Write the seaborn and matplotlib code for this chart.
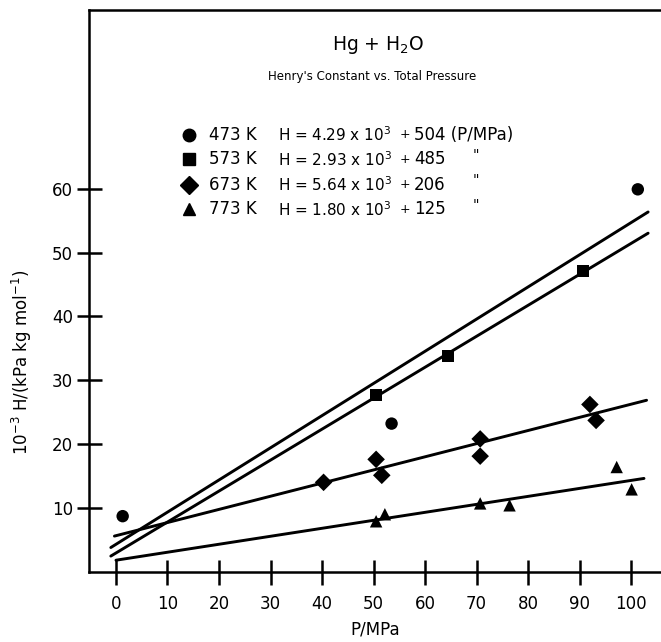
import numpy as np
import pandas as pd
import matplotlib
matplotlib.use("Agg")
import matplotlib.pyplot as plt
import seaborn as sns

# Measured Henry's constants, 10^-3 H / (kPa kg mol^-1), against total pressure P / MPa
p_473 = [1.3, 53.5, 101.3]
h_473 = [8.7, 23.2, 59.9]
p_573 = [50.5, 64.5, 90.7]
h_573 = [27.7, 33.8, 47.1]
p_673 = [40.3, 50.5, 51.6, 70.7, 70.7, 92.0, 93.2]
h_673 = [14.0, 17.6, 15.1, 20.8, 18.1, 26.2, 23.7]
p_773 = [50.5, 52.2, 70.7, 76.4, 97.2, 100.1]
h_773 = [7.9, 9.0, 10.7, 10.4, 16.4, 12.9]

# Linear fits H = a + b (P/MPa); a in 10^3 kPa kg/mol, b in kPa kg/mol per MPa
temps = ["473 K", "573 K", "673 K", "773 K"]
fit_a = [4.29, 2.93, 5.64, 1.80]
fit_b = [504, 485, 206, 125]
fit_a_labels = ["4.29", "2.93", "5.64", "1.80"]
fit_p_start = [-1.0, -1.0, -0.3, 0.0]
fit_p_end = [103.3, 103.3, 103.0, 102.5]

x_ticks = list(range(0, 101, 10))
y_ticks = list(range(10, 61, 10))

marker_map = {"473 K": "o", "573 K": "s", "673 K": "D", "773 K": "^"}

points = pd.concat([
    pd.DataFrame({"P": p, "H": h, "T": t})
    for p, h, t in zip([p_473, p_573, p_673, p_773],
                       [h_473, h_573, h_673, h_773], temps)
], ignore_index=True)

fit_rows = []
for t, a, b, p0, p1 in zip(temps, fit_a, fit_b, fit_p_start, fit_p_end):
    pp = np.array([p0, p1])
    fit_rows.append(pd.DataFrame({"P": pp, "H": a + b * pp / 1000.0, "T": t}))
fits = pd.concat(fit_rows, ignore_index=True)

sns.set_style("ticks")
plt.rcParams["font.family"] = ["DejaVu Sans"]
plt.rcParams["mathtext.default"] = "regular"
plt.rcParams["text.color"] = "black"
plt.rcParams["axes.labelcolor"] = "black"

fig = plt.figure(figsize=(6.61, 6.42), dpi=100)
ax = fig.add_axes([0.1346, 0.1095, 0.8654, 0.875])

sns.lineplot(data=fits, x="P", y="H", units="T", estimator=None,
             color="black", lw=2.1, ax=ax, legend=False)
sns.scatterplot(data=points, x="P", y="H", style="T", markers=marker_map,
                color="black", edgecolor="black", linewidth=0, s=80,
                ax=ax, legend=False)

ax.set_xlim(-5.24, 105.8)
ax.set_ylim(0, 88)
ax.set_xticks(x_ticks)
ax.set_yticks(y_ticks)

for side in ["left", "bottom", "top"]:
    ax.spines[side].set_linewidth(1.8)
    ax.spines[side].set_color("black")
ax.spines["right"].set_visible(False)

ax.tick_params(axis="both", direction="inout", length=18, width=1.8,
               color="black", labelsize=12, labelcolor="black")
ax.tick_params(axis="x", pad=8)
ax.tick_params(axis="y", pad=2.5)
ax.tick_params(top=False, right=False)

ax.set_xlabel("P/MPa", fontsize=12, labelpad=5)
ax.set_ylabel("10$^{-3}$ H/(kPa kg mol$^{-1}$)", fontsize=12)
ax.yaxis.set_label_coords(-0.096, 0.373)

ax.text(0.505, 0.9376, "Hg + H$_2$O", transform=ax.transAxes,
        ha="center", va="center", fontsize=13.5)
ax.text(0.495, 0.882, "Henry's Constant vs. Total Pressure",
        transform=ax.transAxes, ha="center", va="center", fontsize=8.5)

# Key with the fitted equations
row_y = [0.7774, 0.7338, 0.6884, 0.6448]
for i, (t, a_lbl, b) in enumerate(zip(temps, fit_a_labels, fit_b)):
    y = row_y[i]
    ax.plot([0.1748], [y], marker=marker_map[t], color="black", ms=9,
            ls="none", transform=ax.transAxes, clip_on=False)
    ax.text(0.2098, y, t, transform=ax.transAxes, ha="left", va="center",
            fontsize=12)
    ax.text(0.3304, y, "H = " + a_lbl + " x 10$^3$", transform=ax.transAxes,
            ha="left", va="center", fontsize=11)
    ax.text(0.5525, y, "+", transform=ax.transAxes, ha="center",
            va="center", fontsize=9)
    val = str(b) + " (P/MPa)" if i == 0 else str(b)
    ax.text(0.568, y, val, transform=ax.transAxes, ha="left", va="center",
            fontsize=12)
    if i > 0:
        ax.text(0.6766, y + 0.008, '"', transform=ax.transAxes,
                ha="center", va="center", fontsize=10)

fig.savefig("out.png", dpi=100)
